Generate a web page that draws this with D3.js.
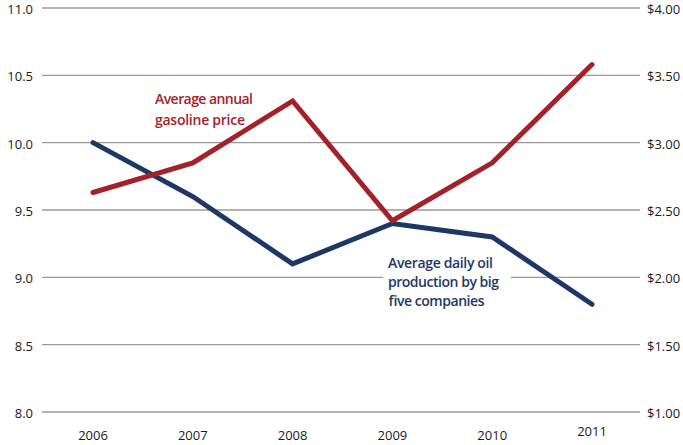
<!DOCTYPE html>
<html>
<head>
<meta charset="utf-8">
<script src="https://cdn.jsdelivr.net/npm/d3@7"></script>
<style>
  body { margin: 0; background: #fff; }
  svg text { font-family: "Open Sans", "Liberation Sans", sans-serif; }
</style>
</head>
<body>
<svg id="chart" width="683" height="445"></svg>
<script>
// data
var years = ["2006", "2007", "2008", "2009", "2010", "2011"]
var oil_production = [10.0, 9.6, 9.1, 9.4, 9.3, 8.8]      // left axis
var gas_price = [2.63, 2.85, 3.31, 2.42, 2.85, 3.58]       // right axis, dollars
var left_ticks = [8.0, 8.5, 9.0, 9.5, 10.0, 10.5, 11.0]
var right_ticks = [1.0, 1.5, 2.0, 2.5, 3.0, 3.5, 4.0]
var gas_label = ["Average annual", "gasoline price"]
var oil_label = ["Average daily oil", "production by big", "five companies"]

var red = "#a3222a", blue = "#1e3866"
var svg = d3.select("#chart")

var x = d3.scalePoint().domain(years).range([93, 592])
var y_left = d3.scaleLinear().domain([8, 11]).range([412, 8])
var y_right = d3.scaleLinear().domain([1, 4]).range([412, 8])

// grid lines
svg.append("g").selectAll("line").data(left_ticks).enter().append("line")
    .attr("x1", 42).attr("x2", 640)
    .attr("y1", d => y_left(d)).attr("y2", d => y_left(d))
    .attr("stroke", "#9a9a9a").attr("stroke-width", 1.3)

// left axis labels
svg.append("g").selectAll("text").data(left_ticks).enter().append("text")
    .attr("x", 33).attr("y", d => y_left(d) + 6)
    .attr("text-anchor", "end").attr("font-size", 13).attr("fill", "#1a1a1a")
    .text(d => d3.format(".1f")(d))

// right axis labels
svg.append("g").selectAll("text").data(right_ticks).enter().append("text")
    .attr("x", 647).attr("y", d => y_right(d) + 6)
    .attr("font-size", 13).attr("fill", "#1a1a1a")
    .text(d => "$" + d3.format(".2f")(d))

// year labels
svg.append("g").selectAll("text").data(years).enter().append("text")
    .attr("x", d => x(d)).attr("y", (d, i) => i == years.length - 1 ? 436 : 440)
    .attr("text-anchor", "middle").attr("font-size", 13).attr("fill", "#1a1a1a")
    .text(d => d)

// label background for oil label (cuts the grid line)
svg.append("rect").attr("x", 383).attr("y", 254).attr("width", 128).attr("height", 56).attr("fill", "#fff")

var line_oil = d3.line().x((d, i) => x(years[i])).y(d => y_left(d))
var line_gas = d3.line().x((d, i) => x(years[i])).y(d => y_right(d))

svg.append("path").datum(oil_production).attr("d", line_oil)
    .attr("fill", "none").attr("stroke", blue).attr("stroke-width", 5)
    .attr("stroke-linecap", "round").attr("stroke-linejoin", "miter")
svg.append("path").datum(gas_price).attr("d", line_gas)
    .attr("fill", "none").attr("stroke", red).attr("stroke-width", 5)
    .attr("stroke-linecap", "round").attr("stroke-linejoin", "miter")

// series labels
svg.append("g").selectAll("text").data(gas_label).enter().append("text")
    .attr("x", 155).attr("y", (d, i) => 104 + i * 21)
    .attr("font-size", 14).attr("font-weight", 600).attr("fill", red)
    .attr("textLength", (d, i) => i == 0 ? 98 : 90)
    .text(d => d)

svg.append("g").selectAll("text").data(oil_label).enter().append("text")
    .attr("x", 388).attr("y", (d, i) => 268 + i * 19)
    .attr("font-size", 14).attr("font-weight", 600).attr("fill", blue)
    .attr("textLength", (d, i) => [105, 111, 96][i])
    .text(d => d)
</script>
</body>
</html>
